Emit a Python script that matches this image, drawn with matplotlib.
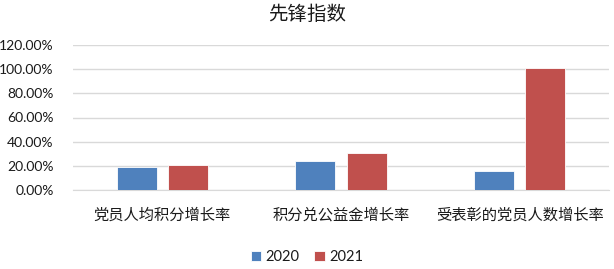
import numpy as np
import matplotlib.pyplot as plt
from matplotlib.ticker import PercentFormatter

plt.rcParams['font.family'] = ['Lato', 'Noto Sans CJK SC', 'DejaVu Sans']

categories = ['党员人均积分增长率', '积分兑公益金增长率', '受表彰的党员人数增长率']
series_names = ['2020', '2021']
values_2020 = [18.8, 24.3, 16.0]
values_2021 = [20.7, 30.9, 101.0]
colors = ['#4F81BD', '#C0504D']

fig = plt.figure(figsize=(6.14, 2.69), dpi=100)
ax = fig.add_axes([73 / 614, 1 - 190 / 269, (609 - 73) / 614, 145 / 269])

x = np.arange(len(categories))
w = 0.224
off = 0.143
for vals, name, c, sgn in zip([values_2020, values_2021], series_names, colors, [-1, 1]):
    ax.bar(x + sgn * off, vals, w, color=c, label=name, edgecolor='white', linewidth=0.6, zorder=3)

ax.set_xlim(-0.5, len(categories) - 0.5)
ax.set_ylim(0, 120)
ax.set_yticks(np.arange(0, 121, 20))
ax.yaxis.set_major_formatter(PercentFormatter(decimals=2))
ax.grid(axis='y', color='#D9D9D9', linewidth=1, zorder=0)
for s in ['top', 'right', 'left']:
    ax.spines[s].set_visible(False)
ax.spines['bottom'].set_color('#D9D9D9')
ax.tick_params(axis='both', length=0, labelsize=10, colors='#1a1a1a')
ax.tick_params(axis='y', pad=14)
ax.tick_params(axis='x', pad=12)
ax.set_xticks(x)
ax.set_xticklabels(categories, fontsize=11, family=['Noto Sans CJK SC'])

fig.text(0.5, 1 - 14 / 269, '先锋指数', ha='center', va='center', fontsize=14,
         color='#1a1a1a', family=['Noto Sans CJK SC'])
fig.legend(loc='center', bbox_to_anchor=(0.5, 1 - 257 / 269), ncol=2, frameon=False,
           fontsize=10.5, handlelength=0.7, handleheight=0.7, handletextpad=0.3,
           columnspacing=1.0, labelcolor='#1a1a1a')

fig.savefig('out.png', dpi=100)
